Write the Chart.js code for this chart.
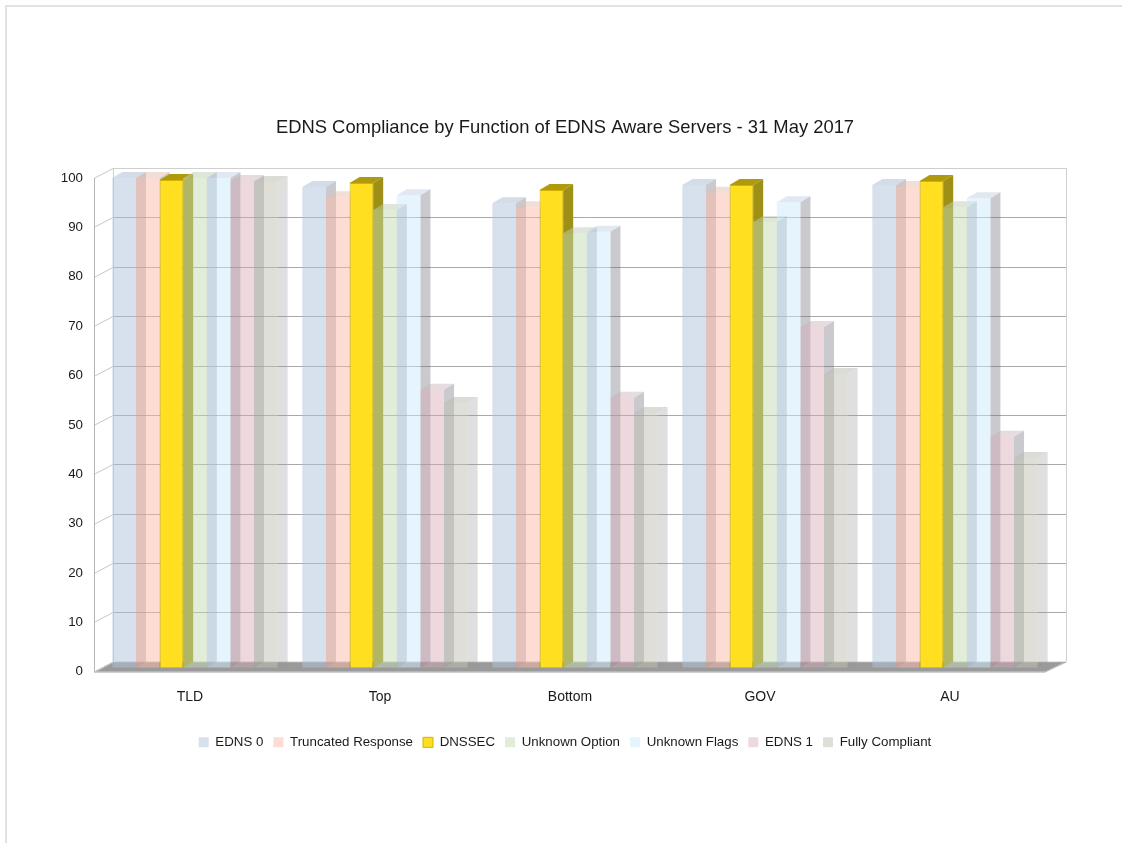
<!DOCTYPE html>
<html>
<head>
<meta charset="utf-8">
<script src="https://cdn.jsdelivr.net/npm/chart.js@4/dist/chart.umd.min.js"></script>
<style>
  body { margin: 0; background: #fff; }
  #frame { position: absolute; left: 5px; top: 5px; width: 1130px; height: 850px;
           border-top: 2px solid #e2e2e2; border-left: 2px solid #e2e2e2; }
  canvas { position: absolute; left: 0; top: 0; }
</style>
</head>
<body>
<div id="frame"></div>
<canvas id="ednsChart" width="1122" height="843"></canvas>
<script>
    // 데이터
    const categories = ['TLD', 'Top', 'Bottom', 'GOV', 'AU'];
    const edns0          = [99.2, 97.4, 94.1, 97.8, 97.8];
    const truncated      = [99.2, 95.3, 93.3, 96.2, 97.4];
    const dnssec         = [98.8, 98.2, 96.8, 97.8, 98.6];
    const unknownOption  = [99.2, 92.7, 88.0, 90.3, 93.3];
    const unknownFlags   = [99.2, 95.7, 88.3, 94.3, 95.1];
    const edns1          = [98.6, 56.3, 54.7, 69.0, 46.8];
    const fullyCompliant = [98.4, 53.6, 51.6, 59.5, 42.5];
    const yTicks = [0, 10, 20, 30, 40, 50, 60, 70, 80, 90, 100];

    const font = 'Liberation Sans, Arial, sans-serif';
    const textColor = '#1a1a1a';
    const DX = 10, DY = 6; // bar depth

    // 3D 프레임 + 막대 옆면/윗면
    const frame3d = {
        id: 'frame3d',
        beforeDatasetsDraw(chart) {
            const { ctx, chartArea: ca, scales: { y } } = chart;
            const fxL = ca.left - 6, fxR = ca.right - 5;
            const bxL = ca.left + 13, bxR = ca.right + 16;
            const yf = v => y.getPixelForValue(v) + 4;
            const yb = v => y.getPixelForValue(v) - 6;
            ctx.save();

            // floor
            ctx.beginPath();
            ctx.moveTo(fxL, yf(0));
            ctx.lineTo(fxR, yf(0));
            ctx.lineTo(bxR, yb(0));
            ctx.lineTo(bxL, yb(0));
            ctx.closePath();
            ctx.fillStyle = '#9a9a9a';
            ctx.fill();
            ctx.strokeStyle = '#bdbdbd';
            ctx.lineWidth = 1;
            ctx.beginPath();
            ctx.moveTo(fxL, yf(0) + 0.5);
            ctx.lineTo(fxR, yf(0) + 0.5);
            ctx.lineTo(bxR, yb(0) + 0.5);
            ctx.stroke();

            // back wall gridlines
            yTicks.forEach(v => {
                const yy = Math.round(yb(v)) + 0.5;
                ctx.strokeStyle = v === 100 ? '#cfcfcf' : '#a9a9a9';
                ctx.beginPath();
                ctx.moveTo(bxL, yy);
                ctx.lineTo(bxR, yy);
                ctx.stroke();
                // side wall
                ctx.strokeStyle = '#c6c6c6';
                ctx.beginPath();
                ctx.moveTo(fxL, Math.round(yf(v)) + 0.5);
                ctx.lineTo(bxL, yy);
                ctx.stroke();
            });
            ctx.strokeStyle = '#cfcfcf';
            ctx.beginPath();
            ctx.moveTo(bxR + 0.5, yb(100));
            ctx.lineTo(bxR + 0.5, yb(0));
            ctx.moveTo(bxL + 0.5, yb(100));
            ctx.lineTo(bxL + 0.5, yb(0));
            ctx.stroke();
            ctx.strokeStyle = '#b5b5b5';
            ctx.beginPath();
            ctx.moveTo(fxL + 0.5, yf(100));
            ctx.lineTo(fxL + 0.5, yf(0));
            ctx.stroke();

            // bar sides and tops
            chart.data.datasets.forEach((ds, i) => {
                const meta = chart.getDatasetMeta(i);
                meta.data.forEach(bar => {
                    const { x, y: top, base, width } = bar.getProps(['x', 'y', 'base', 'width'], true);
                    const l = x - width / 2, r = x + width / 2;
                    ctx.fillStyle = ds.sideColor;
                    ctx.beginPath();
                    ctx.moveTo(r, top);
                    ctx.lineTo(r + DX, top - DY);
                    ctx.lineTo(r + DX, base - DY);
                    ctx.lineTo(r, base);
                    ctx.closePath();
                    ctx.fill();
                    ctx.fillStyle = ds.capColor;
                    ctx.beginPath();
                    ctx.moveTo(l, top);
                    ctx.lineTo(l + DX, top - DY);
                    ctx.lineTo(r + DX, top - DY);
                    ctx.lineTo(r, top);
                    ctx.closePath();
                    ctx.fill();
                });
            });
            ctx.restore();
        }
    };

    const side = 'rgba(105,105,118,0.36)';
    const ctx = document.getElementById('ednsChart').getContext('2d');
    new Chart(ctx, {
        type: 'bar',
        data: {
            labels: categories,
            datasets: [
                { label: 'EDNS 0', data: edns0, backgroundColor: 'rgba(176,194,220,0.5)', capColor: 'rgba(170,185,210,0.5)', sideColor: side, borderWidth: 0 },
                { label: 'Truncated Response', data: truncated, backgroundColor: 'rgba(252,188,168,0.5)', capColor: 'rgba(230,190,180,0.5)', sideColor: side, borderWidth: 0 },
                { label: 'DNSSEC', data: dnssec, backgroundColor: '#ffdf1f', capColor: '#b09a0c', sideColor: '#9e9016', borderColor: '#d2b300', borderWidth: 1 },
                { label: 'Unknown Option', data: unknownOption, backgroundColor: 'rgba(196,220,180,0.5)', capColor: 'rgba(190,205,180,0.5)', sideColor: side, borderWidth: 0 },
                { label: 'Unknown Flags', data: unknownFlags, backgroundColor: 'rgba(206,233,252,0.5)', capColor: 'rgba(195,210,230,0.5)', sideColor: side, borderWidth: 0 },
                { label: 'EDNS 1', data: edns1, backgroundColor: 'rgba(212,168,180,0.45)', capColor: 'rgba(200,175,180,0.45)', sideColor: side, borderWidth: 0 },
                { label: 'Fully Compliant', data: fullyCompliant, backgroundColor: 'rgba(192,192,178,0.5)', capColor: 'rgba(185,185,175,0.5)', sideColor: 'rgba(150,150,150,0.3)', borderWidth: 0 }
            ]
        },
        options: {
            responsive: false,
            animation: false,
            datasets: { bar: { barPercentage: 1, categoryPercentage: 0.87 } },
            layout: { padding: { top: 108, left: 40, right: 32, bottom: 84 } },
            plugins: {
                title: {
                    display: true,
                    text: 'EDNS Compliance by Function of EDNS Aware Servers - 31 May 2017',
                    font: { family: font, size: 18.4, weight: 'normal' },
                    color: textColor,
                    padding: { top: 9, bottom: 35 }
                },
                legend: {
                    position: 'bottom',
                    labels: { boxWidth: 10, boxHeight: 10, padding: 10, font: { family: font, size: 13.3 }, color: textColor }
                },
                tooltip: { enabled: false }
            },
            scales: {
                x: {
                    grid: { display: false },
                    border: { display: false },
                    ticks: { padding: 13, labelOffset: -5, font: { family: font, size: 14 }, color: textColor },
                    afterFit: s => { s.height = 58; }
                },
                y: {
                    min: 0, max: 100,
                    grid: { display: false },
                    border: { display: false },
                    ticks: { stepSize: 10, padding: 9, labelOffset: 4, font: { family: font, size: 13.3 }, color: textColor },
                    afterFit: s => { s.width = 60; }
                },
                y2: {
                    position: 'right',
                    grid: { display: false },
                    border: { display: false },
                    ticks: { display: false },
                    afterFit: s => { s.width = 40; }
                }
            }
        },
        plugins: [frame3d]
    });
</script>
</body>
</html>
